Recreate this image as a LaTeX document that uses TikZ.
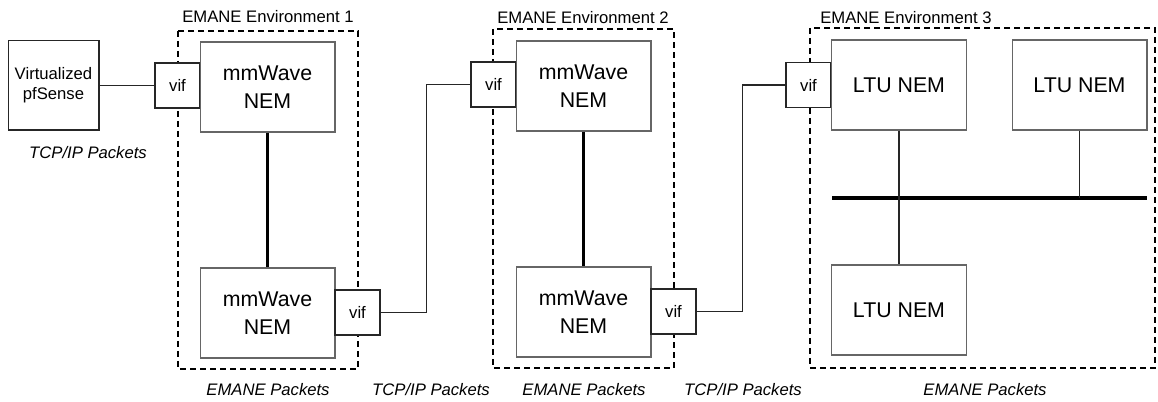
\documentclass[tikz,border=0pt]{standalone}
\usepackage{fontspec}
\setmainfont{Liberation Sans}
\usetikzlibrary{positioning}

\begin{document}
\begin{tikzpicture}[x=0.75pt, y=-0.75pt,
  nem/.style={rectangle, draw=black!60, fill=white, line width=1pt, minimum width=101pt, minimum height=67.5pt, inner sep=0pt, align=center, font=\fontsize{16}{21}\selectfont},
  vif/.style={rectangle, draw=black!85, fill=white, line width=1pt, minimum size=33.75pt, inner sep=0pt, font=\fontsize{12.5}{15}\selectfont},
  host/.style={rectangle, draw=black!85, fill=white, line width=1pt, minimum width=68pt, minimum height=67pt, inner sep=0pt, align=center, font=\fontsize{12.5}{15}\selectfont},
  env/.style={draw, line width=1.5pt, dash pattern=on 4.5pt off 3pt},
  envlabel/.style={anchor=base west, inner sep=0pt, font=\fontsize{12.5}{15}\selectfont},
  pkt/.style={anchor=base, inner sep=0pt, font=\fontsize{12.5}{15}\selectfont\itshape},
  link/.style={draw=black!85, line width=1.2pt},
  trunk/.style={draw, line width=2.5pt}]

  \useasboundingbox (0,0) rectangle (1158,402);

  % environments
  \draw[env] (178,31) rectangle (358,369);
  \draw[env] (493,29) rectangle (674,368);
  \draw[env] (810,28) rectangle (1155,368);
  \node[envlabel] (envA) at (182,23) {EMANE Environment 1};
  \node[envlabel] (envB) at (497,24) {EMANE Environment 2};
  \node[envlabel] (envC) at (820,24) {EMANE Environment 3};

  % nodes
  \node[host] (pf) at (53.5,85.5) {Virtualized\\pfSense};
  \node[vif] (vifA) at (177.5,85.5) {vif};
  \node[nem] (nemA) at (267.5,87) {mmWave\\NEM};
  \node[nem] (nemB) at (267.5,313) {mmWave\\NEM};
  \node[vif] (vifB) at (357.5,312.5) {vif};
  \node[vif] (vifC) at (493.5,84.5) {vif};
  \node[nem] (nemC) at (583.5,86) {mmWave\\NEM};
  \node[nem] (nemD) at (583.5,312) {mmWave\\NEM};
  \node[vif] (vifD) at (673.5,311.5) {vif};
  \node[vif] (vifE) at (808.5,85) {vif};
  \node[nem] (ltuA) at (899,85) {LTU NEM};
  \node[nem] (ltuB) at (1079.5,85) {LTU NEM};
  \node[nem] (ltuC) at (899,310) {LTU NEM};

  \coordinate (busL) at (832,198);
  \coordinate (busR) at (1147,198);

  % links
  \draw[link] (pf.east) -- (vifA.west);
  \draw[trunk] (nemA.south) -- (nemB.north);
  \draw[link] (vifB.east) -- ++(46,0) |- (vifC.west);
  \draw[trunk] (nemC.south) -- (nemD.north);
  \draw[link] (vifD.east) -- ++(46,0) |- (vifE.west);
  \draw[trunk, line width=2.3pt] (busL) -- (busR);
  \draw[link] (ltuA.south) -- (ltuC.north);
  \draw[link] (ltuB.south) -- (ltuB |- busR);

  % packet labels
  \node[pkt] (pktA) at (88,159) {TCP/IP Packets};
  \node[pkt] (pktB) at (268,396) {EMANE Packets};
  \node[pkt] (pktC) at (431,396) {TCP/IP Packets};
  \node[pkt] (pktD) at (584,396) {EMANE Packets};
  \node[pkt] (pktE) at (743,396) {TCP/IP Packets};
  \node[pkt] (pktF) at (985,396) {EMANE Packets};

\end{tikzpicture}
\end{document}
